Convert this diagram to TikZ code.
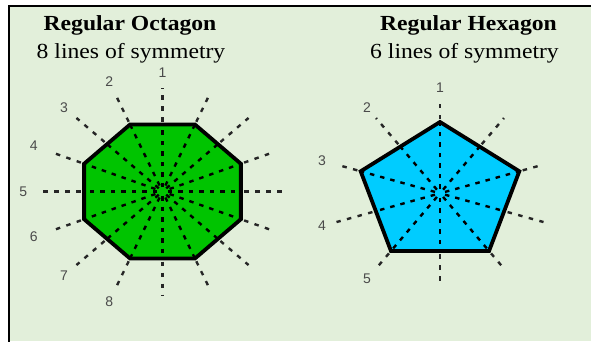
\documentclass[tikz,border=0pt]{standalone}
\usepackage{fontspec}
\setmainfont{Liberation Serif}
\newfontfamily\numfont{Liberation Sans}
\definecolor{bgc}{HTML}{E2EFDA}
\definecolor{octc}{HTML}{00C400}
\definecolor{penc}{HTML}{00CCFF}
\definecolor{numc}{HTML}{4A4A4A}
\begin{document}
\begin{tikzpicture}[x=1pt,y=1pt,
  title/.style={font=\fontsize{21.5}{24}\selectfont\bfseries, anchor=base, xscale=1.1, inner sep=0pt},
  subtitle/.style={font=\fontsize{21.5}{24}\selectfont, anchor=base, xscale=1.1, inner sep=0pt},
  num/.style={font=\numfont\fontsize{14}{16}\selectfont, text=numc, inner sep=0pt},
  inray/.style={line width=2.4pt, dash pattern=on 4.5pt off 6pt, black},
  outray/.style={line width=2.4pt, dash pattern=on 4.5pt off 6.5pt, black!85},
  shapeborder/.style={line width=3.8pt, line join=miter, black},
]
\useasboundingbox (0,0) rectangle (591,-341);
\fill[white] (0,0) rectangle (591,-341);
\fill[bgc] (9,-6) rectangle (591,-341);
\draw[line width=2.5pt] (9,-345) -- (9,-6) -- (595,-6);

% titles
\node[title] (t1) at (130,-30) {Regular Octagon};
\node[subtitle] (s1) at (131,-58) {8 lines of symmetry};
\node[title] (t2) at (468.5,-30) {Regular Hexagon};
\node[subtitle] (s2) at (464.5,-58) {6 lines of symmetry};

% octagon
\begin{scope}[shift={(162.5,-191.5)}, xscale=1.17]
  \fill[octc] (22.5:72.5) \foreach \a in {67.5,112.5,...,337.5}{ -- (\a:72.5)} -- cycle;
  \foreach \k in {0,...,15}{
    \pgfmathsetmacro\ang{90+22.5*\k}
    \pgfmathsetmacro\rb{mod(\k,2)==0 ? 67 : 72.5}
    \pgfmathsetmacro\rc{\rb+3}
    \pgfmathsetmacro\rs{mod(\k,2)==0 ? 4.5 : 6.5}
    \draw[inray] (\ang:\rs) -- (\ang:\rb);
    \draw[outray] (\ang:\rc) -- (\ang:104);
  }
  \draw[shapeborder] (22.5:72.5) \foreach \a in {67.5,112.5,...,337.5}{ -- (\a:72.5)} -- cycle;
  \foreach \n [count=\i from 0] in {1,...,8}{
    \pgfmathsetmacro\ang{90+22.5*\i}
    \node[num] (o\n) at (\ang:119) {\n};
  }
\end{scope}

% pentagon
\begin{scope}[shift={(440,-193.3)}, xscale=1.17]
  \fill[penc] (90:71.3) \foreach \a in {162,234,306,18}{ -- (\a:71.3)} -- cycle;
  \foreach \k in {0,...,9}{
    \pgfmathsetmacro\ang{90+36*\k}
    \pgfmathsetmacro\rb{mod(\k,2)==0 ? 71.3 : 57.7}
    \pgfmathsetmacro\rc{\rb+3}
    \pgfmathsetmacro\re{\k==0 ? 96 : 93}
    \draw[inray] (\ang:4.5) -- (\ang:\rb);
    \draw[outray] (\ang:\rc) -- (\ang:\re);
  }
  \draw[shapeborder] (90:71.3) \foreach \a in {162,234,306,18}{ -- (\a:71.3)} -- cycle;
  \foreach \n [count=\i from 0] in {1,...,5}{
    \pgfmathsetmacro\ang{90+36*\i}
    \node[num] (p\n) at (\ang:106) {\n};
  }
\end{scope}
\end{tikzpicture}
\end{document}
